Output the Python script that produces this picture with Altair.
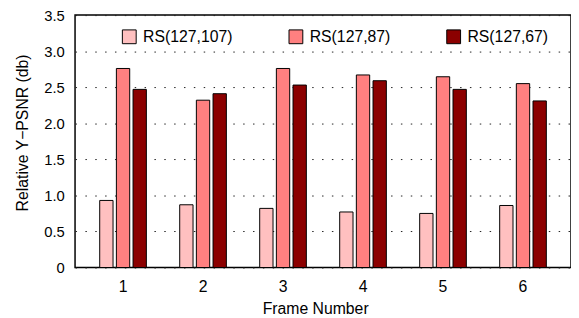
import altair as alt
import pandas as pd

frames = [1, 2, 3, 4, 5, 6]
series = ["RS(127,107)", "RS(127,87)", "RS(127,67)"]
rs_127_107 = [0.93, 0.87, 0.82, 0.77, 0.75, 0.86]
rs_127_87 = [2.76, 2.32, 2.76, 2.67, 2.645, 2.55]
rs_127_67 = [2.47, 2.41, 2.53, 2.59, 2.47, 2.31]
colors = ["#FFC0C0", "#FF8080", "#8B0000"]
y_ticks = [0, 0.5, 1.0, 1.5, 2.0, 2.5, 3.0, 3.5]

rows = []
for name, vals in zip(series, [rs_127_107, rs_127_87, rs_127_67]):
    for f, v in zip(frames, vals):
        rows.append({"frame": f, "series": name, "value": v})
df = pd.DataFrame(rows)

FONT = "Liberation Sans"

chart = alt.Chart(df).mark_bar(stroke="black", strokeWidth=1, opacity=1).encode(
    x=alt.X(
        "frame:O",
        title="Frame Number",
        scale=alt.Scale(paddingInner=0, paddingOuter=0.1),
        axis=alt.Axis(
            labelAngle=0, ticks=False, domain=False, grid=False,
            labelFontSize=16, labelPadding=11, labelColor="black",
            titleFontSize=16, titleFontWeight="normal", titlePadding=7,
            titleX=243.5, titleAlign="center",
            titleColor="black", labelFont=FONT, titleFont=FONT,
        ),
    ),
    xOffset=alt.XOffset(
        "series:N", sort=series,
        scale=alt.Scale(paddingInner=0.2, paddingOuter=1),
    ),
    y=alt.Y(
        "value:Q",
        title="Relative Y\u2212PSNR (db)",
        scale=alt.Scale(domain=[0, 3.5], nice=False),
        axis=alt.Axis(
            values=y_ticks, ticks=False, domain=False, grid=True,
            gridDash=[1.5, 8.5], gridColor="#222", gridWidth=1,
            labelExpr="datum.value == 0 ? '0' : format(datum.value, '.1f')",
            labelFontSize=15, labelPadding=11, labelColor="black",
            titleFontSize=16, titleFontWeight="normal", titlePadding=13,
            titleY=119, titleColor="black", labelFont=FONT, titleFont=FONT,
        ),
    ),
    color=alt.Color(
        "series:N", sort=series,
        scale=alt.Scale(domain=series, range=colors),
        legend=alt.Legend(
            title=None, orient="none", legendX=47, legendY=14,
            direction="horizontal", symbolType="square", symbolSize=196,
            symbolStrokeColor="black", symbolStrokeWidth=1, symbolOpacity=1,
            labelFontSize=16, labelFont=FONT, labelColor="black",
            labelOffset=6, columnPadding=55, padding=0,
        ),
    ),
).properties(
    width=503,
    height=256,
    autosize=alt.AutoSizeParams(type="none"),
    padding={"left": 68, "top": 5, "right": 0, "bottom": 49},
).configure_view(
    stroke="black", strokeWidth=1.5
)

chart.save("out.html", embed_options={"renderer": "svg", "actions": False})
